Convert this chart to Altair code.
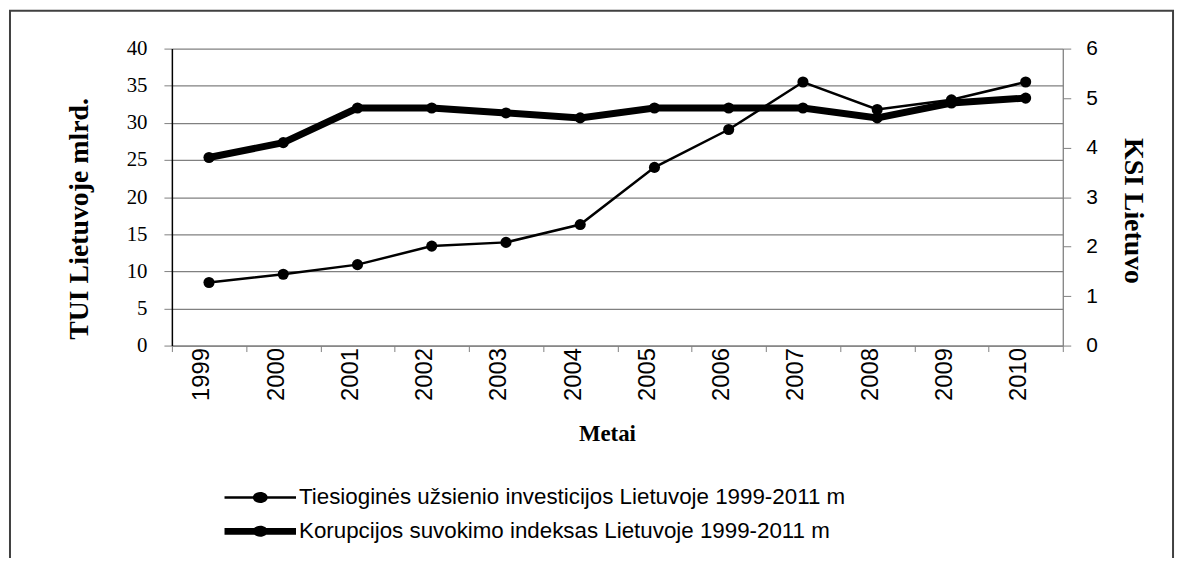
import altair as alt
import pandas as pd

years = ["1999", "2000", "2001", "2002", "2003", "2004", "2005", "2006", "2007", "2008", "2009", "2010"]
tui = [8.5, 9.6, 10.9, 13.4, 13.9, 16.3, 24.0, 29.1, 35.5, 31.8, 33.1, 35.5]
ksi = [3.8, 4.1, 4.8, 4.8, 4.7, 4.6, 4.8, 4.8, 4.8, 4.6, 4.9, 5.0]
series_names = [
    "Tiesioginės užsienio investicijos Lietuvoje 1999-2011 m",
    "Korupcijos suvokimo indeksas Lietuvoje 1999-2011 m",
]
left_ticks = [0, 5, 10, 15, 20, 25, 30, 35, 40]
right_ticks = [0, 1, 2, 3, 4, 5, 6]

df_tui = pd.DataFrame({"Metai": years, "TUI": tui})
df_ksi = pd.DataFrame({"Metai": years, "KSI": ksi})
df_leg = pd.DataFrame({"serija": series_names})
df_frame = pd.DataFrame({"a": [0]})

SANS = "Liberation Sans"
SERIF = "Liberation Serif"
GRAY = "#808080"

x_enc = alt.X(
    "Metai:O",
    sort=years,
    scale=alt.Scale(type="band", paddingInner=0, paddingOuter=0),
    axis=alt.Axis(
        title="Metai",
        labelAngle=-90,
        labelBaseline="alphabetic",
        labelFont=SANS,
        labelFontSize=24,
        labelColor="black",
        labelPadding=-4,
        tickBand="extent",
        tickColor=GRAY,
        tickSize=6,
        domainColor=GRAY,
        domainWidth=1.3,
        titleFont=SERIF,
        titleFontSize=23,
        titleFontWeight="bold",
        titleColor="black",
        titleX=438,
        titleY=96,
        titleBaseline="alphabetic",
        titleAlign="center",
    ),
)

# KSI (right axis)
ksi_base = alt.Chart(df_ksi).encode(
    x=x_enc,
    y=alt.Y(
        "KSI:Q",
        scale=alt.Scale(domain=[0, 6]),
        axis=alt.Axis(
            orient="right",
            values=right_ticks,
            grid=False,
            title="KSI Lietuvo",
            labelFont=SANS,
            labelFontSize=21,
            labelColor="black",
            labelPadding=15,
            tickColor=GRAY,
            tickSize=8,
            domainColor=GRAY,
            domainWidth=1.3,
            titleFont=SERIF,
            titleFontSize=28,
            titleFontWeight="bold",
            titleColor="black",
            titleAngle=90,
            titleX=70,
            titleY=163,
            titleBaseline="middle",
            titleAlign="center",
        ),
    ),
)
ksi_layer = alt.layer(
    ksi_base.mark_line(color="black", strokeWidth=7),
    ksi_base.mark_point(filled=True, color="black", size=125, opacity=1),
)

# TUI (left axis)
tui_base = alt.Chart(df_tui).encode(
    x=x_enc,
    y=alt.Y(
        "TUI:Q",
        scale=alt.Scale(domain=[0, 40]),
        axis=alt.Axis(
            orient="left",
            values=left_ticks,
            grid=True,
            gridColor=GRAY,
            gridWidth=1.3,
            title="TUI Lietuvoje mlrd.",
            labelFont=SERIF,
            labelFontSize=21,
            labelColor="black",
            labelPadding=17,
            tickColor=GRAY,
            tickSize=8,
            domainColor="black",
            domainWidth=1.5,
            titleFont=SERIF,
            titleFontSize=28,
            titleFontWeight="bold",
            titleColor="black",
            titleAngle=270,
            titleX=-93,
            titleY=171,
            titleBaseline="middle",
            titleAlign="center",
        ),
    ),
)
tui_layer = alt.layer(
    tui_base.mark_line(color="black", strokeWidth=2.5),
    tui_base.mark_point(filled=True, color="black", size=125, opacity=1),
)

path_thin = "M-2.4,-0.09H2.4V0.09H-2.4Z M-0.5,0A0.5,0.37 0 1 1 0.5,0A0.5,0.37 0 1 1 -0.5,0Z"
path_thick = "M-2.4,-0.23H2.4V0.23H-2.4Z M-0.5,0A0.5,0.37 0 1 1 0.5,0A0.5,0.37 0 1 1 -0.5,0Z"

legend_layer = alt.Chart(df_leg).mark_point(filled=True, color="black").encode(
    x=alt.value(-5000),
    y=alt.value(-5000),
    shape=alt.Shape(
        "serija:N",
        scale=alt.Scale(domain=series_names, range=[path_thin, path_thick]),
        legend=alt.Legend(
            title=None,
            orient="none",
            legendX=74,
            legendY=437,
            padding=0,
            symbolSize=900,
            symbolFillColor="black",
            symbolStrokeColor="black",
            symbolStrokeWidth=0,
            symbolOpacity=1,
            labelFont=SANS,
            labelFontSize=22.5,
            labelColor="black",
            labelLimit=0,
            labelOffset=24,
            rowPadding=7,
        ),
    ),
)

frame = alt.Chart(df_frame).mark_rect(filled=False, stroke="#404040", strokeWidth=2).encode(
    x=alt.value(-163), x2=alt.value(1008), y=alt.value(-38), y2=alt.value(600)
)

chart = (
    alt.layer(frame, ksi_layer, tui_layer, legend_layer)
    .resolve_scale(y="independent")
    .properties(
        width=897,
        height=299,
        autosize=alt.AutoSizeParams(type="none"),
        padding={"left": 165, "top": 39, "right": 116, "bottom": 212},
        background="white",
    )
    .configure_view(strokeWidth=0)
)

chart.save("out.html", embed_options={"renderer": "svg", "actions": False})
